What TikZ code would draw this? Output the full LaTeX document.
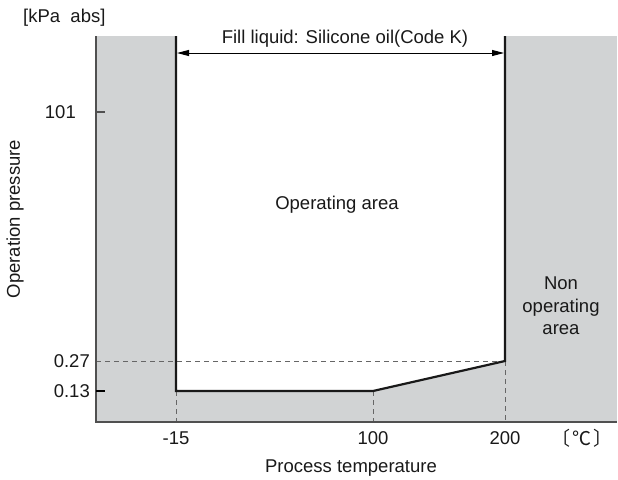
\documentclass[tikz,border=0pt]{standalone}
\usepackage{fontspec}
\setmainfont{Liberation Sans}
\newfontfamily\cjk{Noto Sans CJK SC}
\usetikzlibrary{arrows.meta,positioning}
\definecolor{areagray}{RGB}{209,211,212}
\definecolor{axisgray}{RGB}{80,80,80}

\begin{document}
\begin{tikzpicture}[x=1pt, y=-1pt,
  lbl/.style={font=\fontsize{18.5}{22.5}\selectfont, inner sep=0pt, text=black!90},
  bound/.style={line width=2.2pt, black!90, line join=miter},
  axis/.style={line width=1.6pt, axisgray},
  guide/.style={dash pattern=on 5pt off 4pt, line width=1pt, gray!80!black},
  arrow/.style={{Triangle[length=12pt,width=6pt]}-{Triangle[length=12pt,width=6pt]}, line width=1pt}
]
\useasboundingbox (0,0) rectangle (618,479);
\fill[areagray] (96,36) rectangle (617,422);
\coordinate (TL) at (176,36);
\coordinate (BL) at (176,391);
\coordinate (BM) at (373,391);
\coordinate (BR) at (505,361);
\coordinate (TR) at (505,36);
\fill[white] (TL) -- (BL) -- (BM) -- (BR) -- (TR) -- cycle;

\coordinate (O) at (96,422);
\coordinate (Ytop) at (96,36);
\coordinate (Xend) at (617,422);
\coordinate (Y27) at (96,361);
\coordinate (Xm15) at (176,422);
\coordinate (X100) at (373,422);
\coordinate (X200) at (505,422);

\draw[guide] (Y27) -- (BR);
\draw[guide] (BL) -- (Xm15);
\draw[guide] (BM) -- (X100);
\draw[guide] (BR) -- (X200);
\draw[axis] (Ytop) -- (O) -- (Xend);
\draw[axis, line width=1.2pt] (96,112) -- (105,112);
\draw[axis, line width=1.2pt, black] (96,391) -- (105,391);
\draw[bound] (TL) -- (BL) -- (BM) -- (BR) -- (TR);

\coordinate (AL) at (177,53);
\coordinate (AR) at (504,53);
\draw[arrow] (AL) -- (AR);
\node[lbl] (fill) at (345,39) {Fill liquid: Silicone oil(Code K)};

\node[lbl, anchor=west] (unit) at (23,18) {[kPa~~abs]};
\node[lbl, anchor=east] (p101) at (76,112) {101};
\node[lbl, anchor=east] (p027) at (90,361) {0.27};
\node[lbl, anchor=east] (p013) at (90,391) {0.13};
\node[lbl] (tm15) at (176,438) {-15};
\node[lbl] (t100) at (373,438) {100};
\node[lbl] (t200) at (505,438) {200};
\node[lbl, anchor=east, font=\cjk\fontsize{19}{23}\selectfont] (tunit) at (613,438) {〔\kern2pt ℃\kern2pt 〕};
\node[lbl] (xlabel) at (351,468) {Process temperature};
\node[lbl, rotate=90] (ylabel) at (15,219) {Operation pressure};
\node[lbl] (oparea) at (337,205) {Operating area};
\node[lbl, align=center] (nonarea) at (561,306) {Non\\operating\\area};
\end{tikzpicture}
\end{document}
